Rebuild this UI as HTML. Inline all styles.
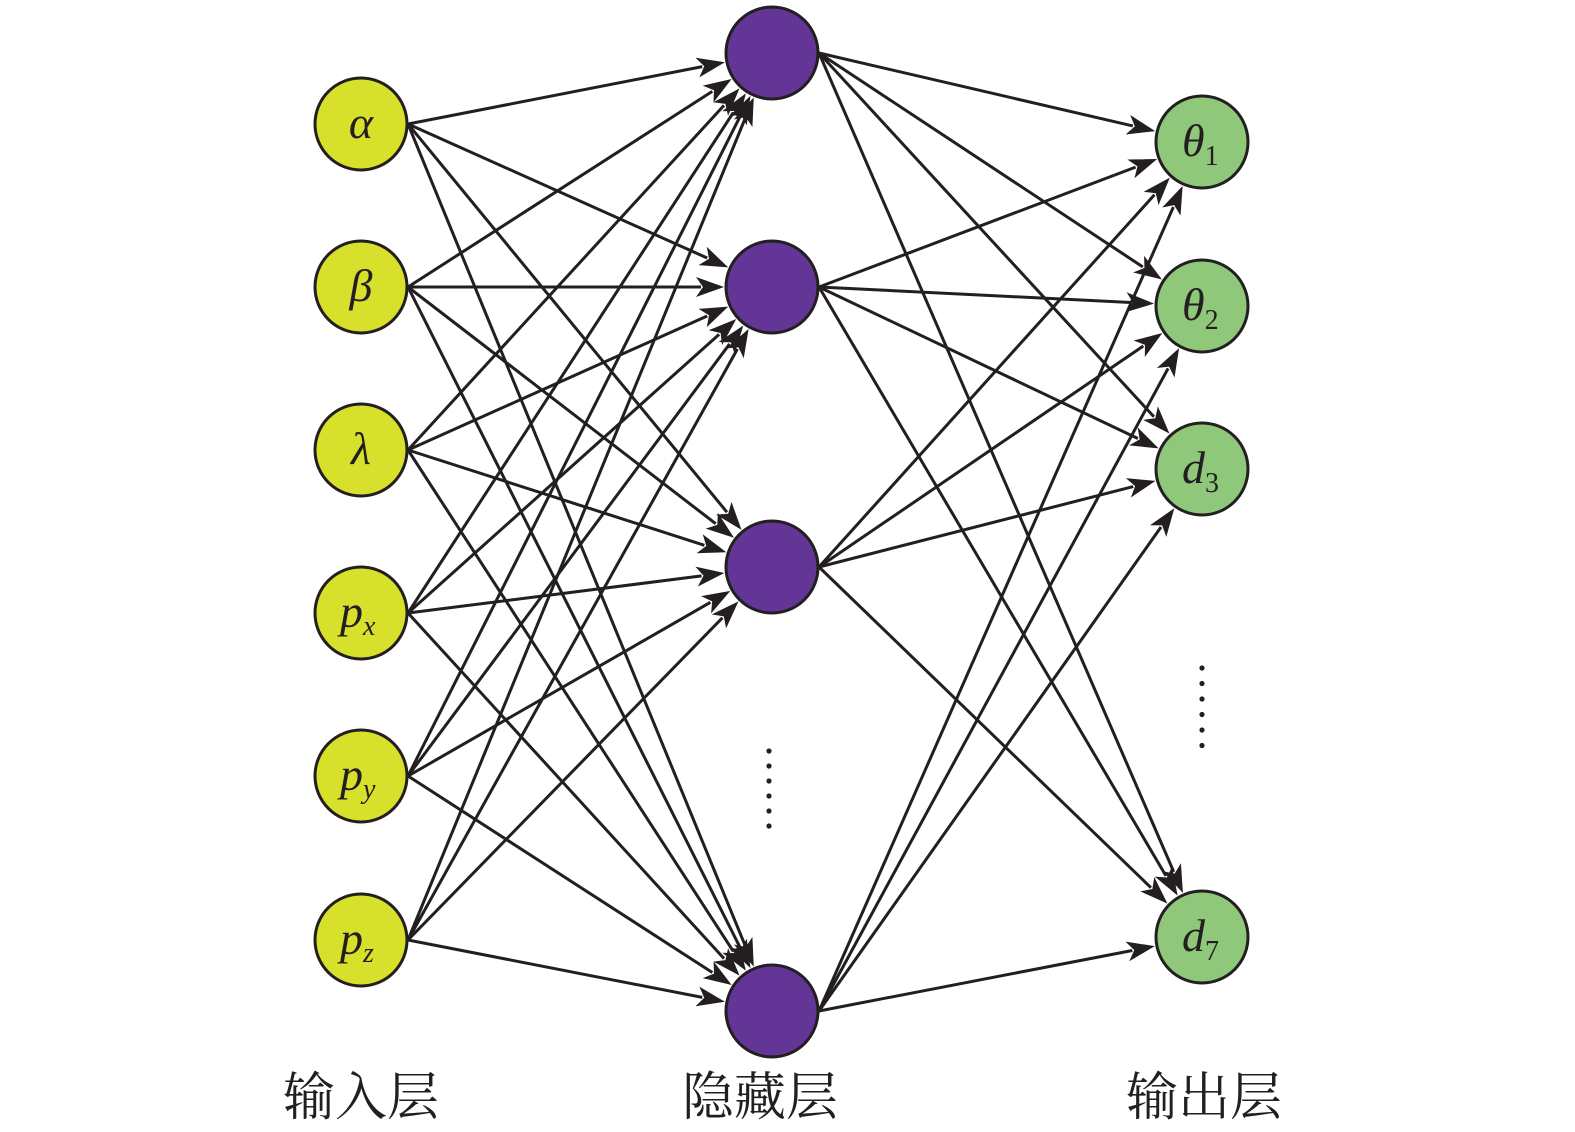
<!DOCTYPE html>
<html><head><meta charset="utf-8"><style>
body{margin:0;background:#fff;width:1575px;height:1132px;overflow:hidden}
svg{display:block}
.l{font-family:"Liberation Serif",serif;font-style:italic;font-size:46px;fill:#231f20}
.s{font-size:28px}
.c{font-family:"Liberation Serif","Noto Serif CJK SC",serif;font-size:52px;fill:#231f20}
</style></head><body>
<svg id="s" width="1575" height="1132" xmlns="http://www.w3.org/2000/svg"></svg>
<script>
const S=document.getElementById('s');
const R=46;
const inp=[124,287,450,613,776,940].map(y=>[361,y]);
const hid=[53,287,567,1011].map(y=>[772,y]);
const out=[142,306,469,937].map(y=>[1202,y]);
let h='';
function edge(a,b){
 const sx=a[0]+R+1, sy=a[1];
 let dx=b[0]-sx, dy=b[1]-sy, d=Math.hypot(dx,dy); dx/=d; dy/=d;
 const tx=b[0]-dx*(R+2), ty=b[1]-dy*(R+2);
 const L=28,W=10;
 const bx=tx-dx*L, by=ty-dy*L;
 h+=`<line x1="${sx}" y1="${sy}" x2="${bx+dx*5}" y2="${by+dy*5}" stroke="#231f20" stroke-width="3"/>`;
 h+=`<polygon points="${tx},${ty} ${bx-dy*W},${by+dx*W} ${bx+dx*7},${by+dy*7} ${bx+dy*W},${by-dx*W}" fill="#231f20"/>`;
}
inp.forEach(a=>hid.forEach(b=>edge(a,b)));
hid.forEach(a=>out.forEach(b=>edge(a,b)));
function node(p,f){h+=`<circle cx="${p[0]}" cy="${p[1]}" r="${R}" fill="${f}" stroke="#231f20" stroke-width="3"/>`;}
inp.forEach(p=>node(p,'#d7e02a'));hid.forEach(p=>node(p,'#623597'));out.forEach(p=>node(p,'#8fc87a'));
const il=[['α',''],['β',''],['λ',''],['p','x'],['p','y'],['p','z']];
il.forEach((t,i)=>{const y=inp[i][1]+14;const x=t[1]?340:361;
 h+=`<text class="l" x="${x}" y="${y}" text-anchor="${t[1]?'start':'middle'}">${t[0]}${t[1]?`<tspan class="s" dy="8">${t[1]}</tspan>`:''}</text>`;});
const ol=[['θ','1'],['θ','2'],['d','3'],['d','7']];
ol.forEach((t,i)=>{const y=out[i][1]+14;
 h+=`<text class="l" x="1182" y="${y}">${t[0]}<tspan class="s" font-style="normal" dy="9">${t[1]}</tspan></text>`;});
for(let i=0;i<6;i++){h+=`<circle cx="769" cy="${751+i*15}" r="2.6" fill="#231f20"/>`;h+=`<circle cx="1202" cy="${668+i*15.5}" r="2.6" fill="#231f20"/>`;}
h+=`<text class="c" x="361" y="1115" text-anchor="middle">输入层</text>`;
h+=`<text class="c" x="760" y="1115" text-anchor="middle">隐藏层</text>`;
h+=`<text class="c" x="1204" y="1115" text-anchor="middle">输出层</text>`;
S.innerHTML=h;
</script>
</body></html>
